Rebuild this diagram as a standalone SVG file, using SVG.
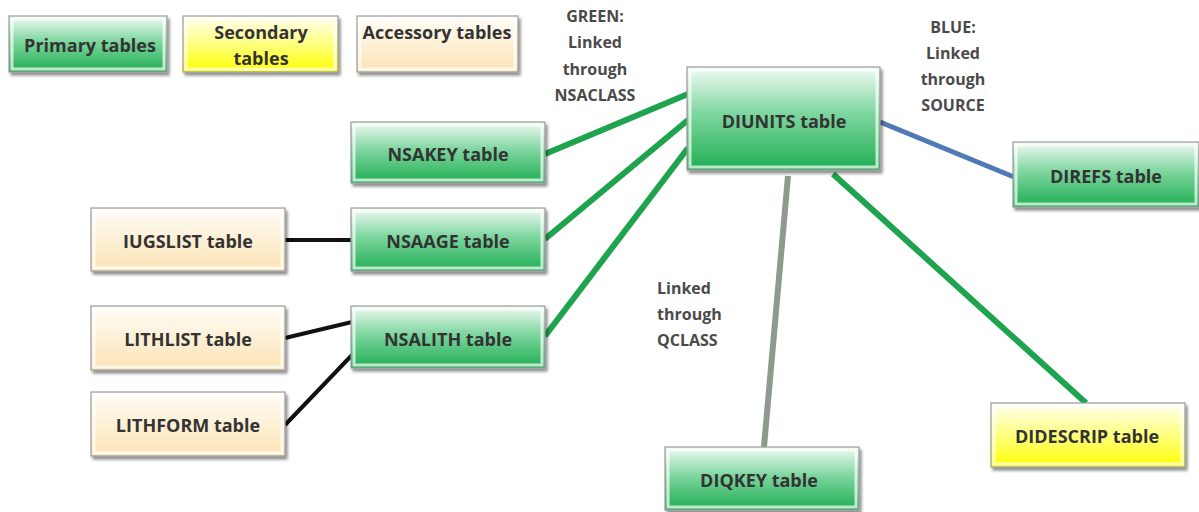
<svg xmlns="http://www.w3.org/2000/svg" width="1199" height="512" viewBox="0 0 1199 512">
<defs>
<linearGradient id="gG" x1="0" y1="0" x2="0" y2="1">
<stop offset="0" stop-color="#f2fbf5"/>
<stop offset="0.45" stop-color="#7fd6a0"/>
<stop offset="1" stop-color="#1fae52"/>
</linearGradient>
<linearGradient id="gY" x1="0" y1="0" x2="0" y2="1">
<stop offset="0" stop-color="#fffff2"/>
<stop offset="0.5" stop-color="#ffff80"/>
<stop offset="1" stop-color="#ffff00"/>
</linearGradient>
<linearGradient id="gA" x1="0" y1="0" x2="0" y2="1">
<stop offset="0" stop-color="#fffdf8"/>
<stop offset="1" stop-color="#fbe3b4"/>
</linearGradient>
<filter id="sh" x="-10%" y="-20%" width="125%" height="150%">
<feGaussianBlur in="SourceAlpha" stdDeviation="1.5"/>
<feOffset dx="2" dy="3" result="b"/>
<feComponentTransfer><feFuncA type="linear" slope="0.45"/></feComponentTransfer>
<feMerge><feMergeNode/><feMergeNode in="SourceGraphic"/></feMerge>
</filter>
</defs>
<style>
.box{stroke:#9a9a9a;stroke-width:1.2;filter:url(#sh)}
.inner{fill:none;stroke:#ffffff;stroke-opacity:0.7;stroke-width:3}
.p{fill:url(#gG)}
.s{fill:url(#gY)}
.a{fill:url(#gA)}
.t{font-family:"Open Sans","Noto Sans",sans-serif;font-weight:bold;font-size:18px;fill:#333333;text-anchor:middle}
.lbl{font-family:"Open Sans","Noto Sans",sans-serif;font-weight:bold;font-size:16px;fill:#4a4a4a}
.g{stroke:#1ea34e;stroke-width:6;fill:none}
.k{stroke:#111111;stroke-width:4;fill:none}
.b{stroke:#4f7ab5;stroke-width:5;fill:none}
.q{stroke:#8d9a8d;stroke-width:6;fill:none}
</style>
<g id="connectors">
<line class="g" x1="545" y1="154" x2="688" y2="94"/>
<line class="g" x1="545" y1="239" x2="688" y2="120"/>
<line class="g" x1="545" y1="336" x2="688" y2="148"/>
<line class="k" x1="285" y1="240" x2="352" y2="240"/>
<line class="k" x1="285" y1="338" x2="352" y2="322"/>
<line class="k" x1="285" y1="425" x2="352" y2="355"/>
<line class="b" x1="880" y1="122" x2="1014" y2="177"/>
<line class="g" x1="833" y1="174" x2="1086" y2="403"/>
<line class="q" x1="788" y1="176" x2="764" y2="447"/>
</g>
<g id="legend-primary"><rect class="box p" x="9" y="16" width="158" height="56"/><rect class="inner" x="12" y="19" width="152" height="50"/><text class="t" x="90" y="52">Primary tables</text></g>
<g id="legend-secondary"><rect class="box s" x="183" y="16" width="155" height="56"/><rect class="inner" x="186" y="19" width="149" height="50"/><text class="t" x="261" y="39">Secondary</text><text class="t" x="261" y="65">tables</text></g>
<g id="legend-accessory"><rect class="box a" x="357" y="16" width="161" height="56"/><rect class="inner" x="360" y="19" width="155" height="50"/><text class="t" x="437" y="39">Accessory tables</text></g>
<g id="DIUNITS"><rect class="box p" x="687" y="67" width="193" height="103"/><rect class="inner" x="690" y="70" width="187" height="97"/><text class="t" x="784" y="128">DIUNITS table</text></g>
<g id="NSAKEY"><rect class="box p" x="351" y="122" width="194" height="61"/><rect class="inner" x="354" y="125" width="188" height="55"/><text class="t" x="448" y="161">NSAKEY table</text></g>
<g id="NSAAGE"><rect class="box p" x="351" y="208" width="194" height="63"/><rect class="inner" x="354" y="211" width="188" height="57"/><text class="t" x="448" y="248">NSAAGE table</text></g>
<g id="NSALITH"><rect class="box p" x="351" y="306" width="194" height="62"/><rect class="inner" x="354" y="309" width="188" height="56"/><text class="t" x="448" y="346">NSALITH table</text></g>
<g id="IUGSLIST"><rect class="box a" x="91" y="208" width="194" height="63"/><rect class="inner" x="94" y="211" width="188" height="57"/><text class="t" x="188" y="248">IUGSLIST table</text></g>
<g id="LITHLIST"><rect class="box a" x="91" y="306" width="194" height="64"/><rect class="inner" x="94" y="309" width="188" height="58"/><text class="t" x="188" y="346">LITHLIST table</text></g>
<g id="LITHFORM"><rect class="box a" x="91" y="392" width="194" height="64"/><rect class="inner" x="94" y="395" width="188" height="58"/><text class="t" x="188" y="432">LITHFORM table</text></g>
<g id="DIREFS"><rect class="box p" x="1013" y="142" width="186" height="65"/><rect class="inner" x="1016" y="145" width="180" height="59"/><text class="t" x="1106" y="183">DIREFS table</text></g>
<g id="DIDESCRIP"><rect class="box s" x="991" y="403" width="194" height="64"/><rect class="inner" x="994" y="406" width="188" height="58"/><text class="t" x="1087" y="443">DIDESCRIP table</text></g>
<g id="DIQKEY"><rect class="box p" x="665" y="447" width="194" height="63"/><rect class="inner" x="668" y="450" width="188" height="57"/><text class="t" x="759" y="487">DIQKEY table</text></g>
<g id="labels">
<text class="lbl" text-anchor="middle" x="595" y="22">GREEN:</text>
<text class="lbl" text-anchor="middle" x="595" y="48">Linked</text>
<text class="lbl" text-anchor="middle" x="595" y="75">through</text>
<text class="lbl" text-anchor="middle" x="595" y="101">NSACLASS</text>
<text class="lbl" text-anchor="middle" x="953" y="33">BLUE:</text>
<text class="lbl" text-anchor="middle" x="953" y="59">Linked</text>
<text class="lbl" text-anchor="middle" x="953" y="85">through</text>
<text class="lbl" text-anchor="middle" x="953" y="111">SOURCE</text>
<text class="lbl" x="657" y="294">Linked</text>
<text class="lbl" x="657" y="320">through</text>
<text class="lbl" x="657" y="346">QCLASS</text>
</g>
</svg>
